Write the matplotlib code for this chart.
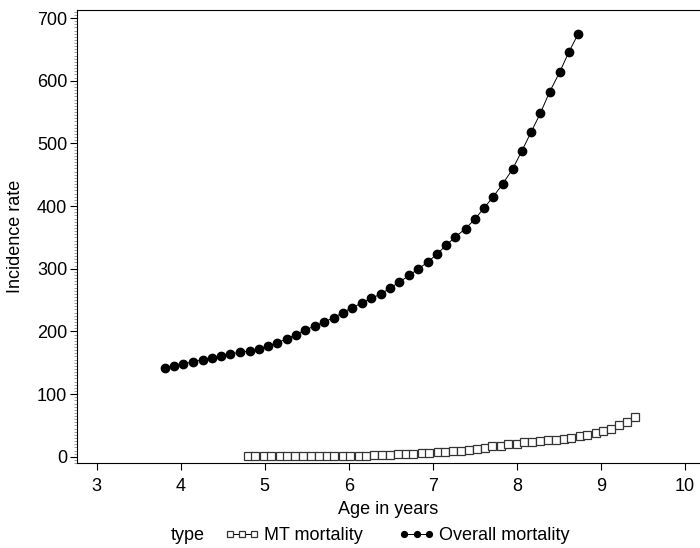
import matplotlib
matplotlib.use("Agg")
import matplotlib.pyplot as plt
from matplotlib.ticker import MultipleLocator

plt.rcParams['font.family'] = ['Liberation Sans', 'DejaVu Sans']
plt.rcParams['font.size'] = 13

# Overall mortality (age in years, incidence rate)
overall_age = [3.81, 3.92, 4.03, 4.15, 4.26, 4.37, 4.48, 4.59, 4.70, 4.82,
               4.93, 5.04, 5.15, 5.26, 5.37, 5.48, 5.60, 5.71, 5.82, 5.93,
               6.04, 6.16, 6.27, 6.38, 6.49, 6.60, 6.72, 6.83, 6.94, 7.05,
               7.16, 7.27, 7.39, 7.50, 7.61, 7.72, 7.83, 7.95, 8.06, 8.17,
               8.28, 8.39, 8.51, 8.62, 8.73]
overall_rate = [142, 145, 148, 151.5, 155, 158, 161.5, 164, 166.5, 169,
                172.5, 176.5, 182, 188, 195, 202, 209, 215, 222, 230,
                238, 245.5, 253, 259.5, 269, 278.5, 289.5, 300, 310.5, 323.5,
                337.5, 351, 364, 379, 397, 415, 435, 459, 488, 518,
                548, 582, 613.5, 646, 674.5]

# MT mortality
mt_age = [4.80, 4.89, 4.99, 5.08, 5.18, 5.27, 5.36, 5.46, 5.55, 5.65,
          5.74, 5.83, 5.93, 6.02, 6.12, 6.21, 6.30, 6.40, 6.49, 6.59,
          6.68, 6.77, 6.87, 6.96, 7.06, 7.15, 7.24, 7.34, 7.43, 7.53,
          7.62, 7.71, 7.81, 7.90, 8.00, 8.09, 8.18, 8.28, 8.37, 8.47,
          8.56, 8.65, 8.75, 8.84, 8.94, 9.03, 9.12, 9.22, 9.31, 9.41]
mt_rate = [1, 1, 1, 1, 1, 1, 1, 1, 1, 1,
           1, 1.2, 1.4, 1.6, 1.8, 2, 2.5, 3, 3.5, 4,
           4.5, 5, 5.5, 6, 7, 8, 9, 10, 11.5, 12.5,
           14, 16.5, 18, 20, 21, 23, 24, 25, 26, 27,
           28, 30, 32.5, 34.5, 38, 41, 45, 50, 55.5, 64]

fig = plt.figure(figsize=(7, 5.48), dpi=100)
ax = fig.add_axes([0.11, 0.155, 0.89, 0.827])

ax.plot(mt_age, mt_rate, color='black', linewidth=0.7, marker='s',
        markersize=5.5, markerfacecolor='white', markeredgecolor='#333333',
        markeredgewidth=0.9, label='MT mortality')
ax.plot(overall_age, overall_rate, color='black', linewidth=0.7, marker='o',
        markersize=6, markerfacecolor='black', markeredgecolor='black',
        label='Overall mortality')

ax.set_xlim(2.766, 10.18)
ax.set_ylim(-10, 713)
ax.set_xticks([3, 4, 5, 6, 7, 8, 9, 10])
ax.set_yticks([0, 100, 200, 300, 400, 500, 600, 700])
ax.yaxis.set_minor_locator(MultipleLocator(5))
ax.tick_params(axis='both', which='major', direction='out', length=5, width=0.8, labelsize=13)
ax.tick_params(axis='x', which='major', pad=6)
ax.tick_params(axis='y', which='major', pad=2)
ax.tick_params(axis='y', which='minor', direction='out', length=2.5, width=0.5, color='#777777')
ax.spines['right'].set_visible(False)

ax.set_xlabel("Age in years", fontsize=13, labelpad=4)
ax.set_ylabel("Incidence rate", fontsize=13, labelpad=9)

handles, labels = ax.get_legend_handles_labels()
leg = fig.legend(handles, labels, loc='center', bbox_to_anchor=(0.567, 0.022),
                 ncol=2, frameon=False, fontsize=13, numpoints=3,
                 handlelength=1.95, handletextpad=0.25, columnspacing=2.0,
                 markerscale=0.7, borderpad=0.1)
fig.text(0.244, 0.022, "type", fontsize=13, ha='left', va='center')

fig.savefig("out.png", dpi=100)
